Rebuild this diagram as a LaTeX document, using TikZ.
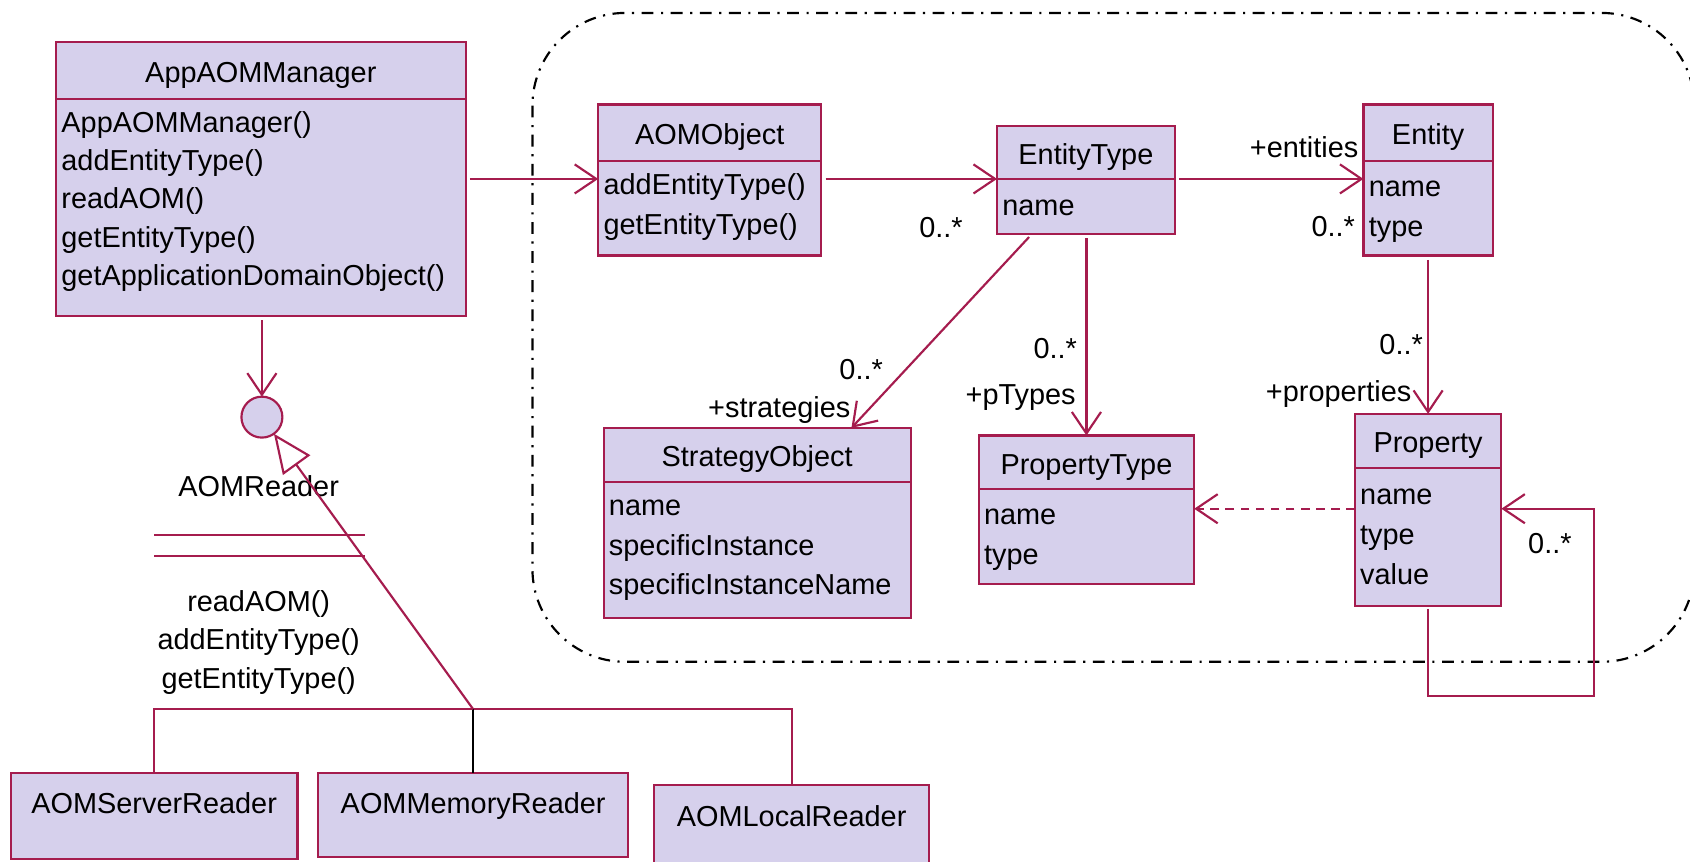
\documentclass[tikz,border=0pt]{standalone}
\usepackage{fontspec}
\setmainfont{Liberation Sans}
\usepackage{xcolor}
\usepackage{tikz}
\usetikzlibrary{positioning}
\usetikzlibrary{arrows.meta}
\definecolor{umlfill}{RGB}{214,208,236}
\definecolor{umlline}{RGB}{165,28,78}
\newcommand{\members}[4][16pt]{\parbox[t][#3][t]{#2}{\raggedright\leftskip=2.5pt\rule{0pt}{#1}#4}}

\begin{document}
\begin{tikzpicture}[
  x=0.5pt, y=-0.5pt,
  font=\fontsize{13.4pt}{18.5pt}\selectfont,
  classhead/.style={draw=umlline, fill=umlfill, line width=1pt, inner sep=0pt, outer sep=0pt, anchor=north west, text height=12.5pt, text depth=1.3pt},
  classbody/.style={draw=umlline, fill=umlfill, line width=1pt, inner sep=0pt, outer sep=0pt, below=0pt of #1},
  reader/.style={classhead, text height=18.75pt, text depth=21.25pt},
  iface/.style={circle, draw=umlline, fill=umlfill, line width=1pt, minimum size=19pt, inner sep=0pt, outer sep=0pt},
  assoc/.style={draw=umlline, line width=1pt, -{Straight Barb[length=10pt,width=13.5pt]}, shorten <=2pt},
  dep/.style={assoc, dash pattern=on 4pt off 3pt, shorten <=0pt},
  real/.style={draw=umlline, line width=1pt, -{Triangle[open,length=18pt,width=15.5pt]}},
  gen/.style={draw=umlline, line width=1pt},
  region/.style={draw=black, line width=1pt, rounded corners=43pt, dash pattern=on 5.5pt off 3.5pt on 1pt off 3.5pt},
  lbl/.style={inner sep=0pt}]
  \useasboundingbox (0,0) rectangle (1568,799);
  \clip (0,0) rectangle (1568,799);

  % domain package
  \draw[region] (494,12) rectangle (1572,614);

  % classes
  \node[classhead, minimum width=190pt, minimum height=26.5pt] (mgr) at (52,39) {AppAOMManager};
  \node[classbody=mgr] (mgrbody) {\members[15.25pt]{190pt}{100.5pt}{\baselineskip=17.8pt AppAOMManager()\\addEntityType()\\readAOM()\\getEntityType()\\getApplicationDomainObject()}};

  \node[classhead, minimum width=103.5pt, minimum height=26pt] (aomobj) at (555,97) {AOMObject};
  \node[classbody=aomobj] (aomobjbody) {\members[15.75pt]{103.5pt}{44pt}{addEntityType()\\getEntityType()}};

  \node[classhead, minimum width=82.5pt, minimum height=24.5pt] (etype) at (925,117) {EntityType};
  \node[classbody=etype] (etypebody) {\members[17pt]{82.5pt}{25.5pt}{name}};

  \node[classhead, minimum width=60pt, minimum height=26pt] (entity) at (1265,97) {Entity};
  \node[classbody=entity] (entitybody) {\members[16.75pt]{60pt}{44pt}{name\\type}};

  \node[classhead, minimum width=68pt, minimum height=25pt] (prop) at (1257,384) {Property};
  \node[classbody=prop] (propbody) {\members[17pt]{68pt}{64pt}{name\\type\\value}};

  \node[classhead, minimum width=100pt, minimum height=25pt] (ptype) at (908,404) {PropertyType};
  \node[classbody=ptype] (ptypebody) {\members[16.5pt]{100pt}{44pt}{name\\type}};

  \node[classhead, minimum width=142.5pt, minimum height=25pt] (strat) at (560,397) {StrategyObject};
  \node[classbody=strat] (stratbody) {\members[15.5pt]{142.5pt}{63pt}{name\\specificInstance\\specificInstanceName}};

  % reader interface
  \node[iface] (rdr) at (243,387) {};
  \node[lbl] (rdrname) at (240,451) {AOMReader};
  \draw[gen] (143,496) -- (339,496);
  \draw[gen] (143,516) -- (339,516);
  \node[lbl, align=center, font=\fontsize{13.4pt}{17.8pt}\selectfont] (rdrops) at (240,596) {readAOM()\\addEntityType()\\getEntityType()};

  \node[reader, minimum width=133pt] (srvrd) at (10,717) {AOMServerReader};
  \node[reader, minimum width=144pt, text depth=20.25pt] (memrd) at (295,717) {AOMMemoryReader};
  \node[reader, minimum width=127.5pt, text height=19.5pt] (locrd) at (607,728) {AOMLocalReader};

  % associations
  \draw[assoc] (mgrbody.east |- etypebody.north) -- (aomobjbody.west |- etypebody.north);
  \draw[assoc] (aomobjbody.east |- etypebody.north) -- (etypebody.north west);
  \draw[assoc] (etypebody.north east) -- (entitybody.west |- etypebody.north);
  \draw[assoc] ([xshift=-25pt]etypebody.south) -- ([xshift=43.75pt]strat.north);
  \draw[assoc] (ptype.north |- etypebody.south) -- (ptype.north);
  \draw[assoc] (entitybody.south) -- (prop.north);
  \coordinate (depfrom) at ([yshift=-19pt]propbody.north west);
  \coordinate (loopin) at (depfrom -| propbody.east);
  \draw[dep] (depfrom) -- (depfrom -| ptypebody.east);
  \draw[assoc, shorten <=1.5pt] (propbody.south) -- ++(0,84) -- ++(154,0) |- (loopin);
  \draw[assoc] (rdr.north |- mgrbody.south) -- (rdr.north);

  % realization
  \draw[gen] (srvrd.north) -- ++(0,-59) -| (locrd.north);
  \draw[black, line width=1pt] (memrd.north) -- ++(0,-59) coordinate (busjoint);
  \draw[real] (busjoint) -- (rdr);

  % multiplicities and roles
  \node[lbl] (m1) at (873,211) {0..*};
  \node[lbl] (r1) at (1210,137) {+entities};
  \node[lbl] (m2) at (1237,210) {0..*};
  \node[lbl] (m3) at (799,343) {0..*};
  \node[lbl] (r2) at (723,380) {+strategies};
  \node[lbl] (m4) at (979,323) {0..*};
  \node[lbl] (r3) at (947,369) {+pTypes};
  \node[lbl] (m5) at (1300,320) {0..*};
  \node[lbl] (r4) at (1242,366) {+properties};
  \node[lbl] (m6) at (1438,504) {0..*};
\end{tikzpicture}
\end{document}
